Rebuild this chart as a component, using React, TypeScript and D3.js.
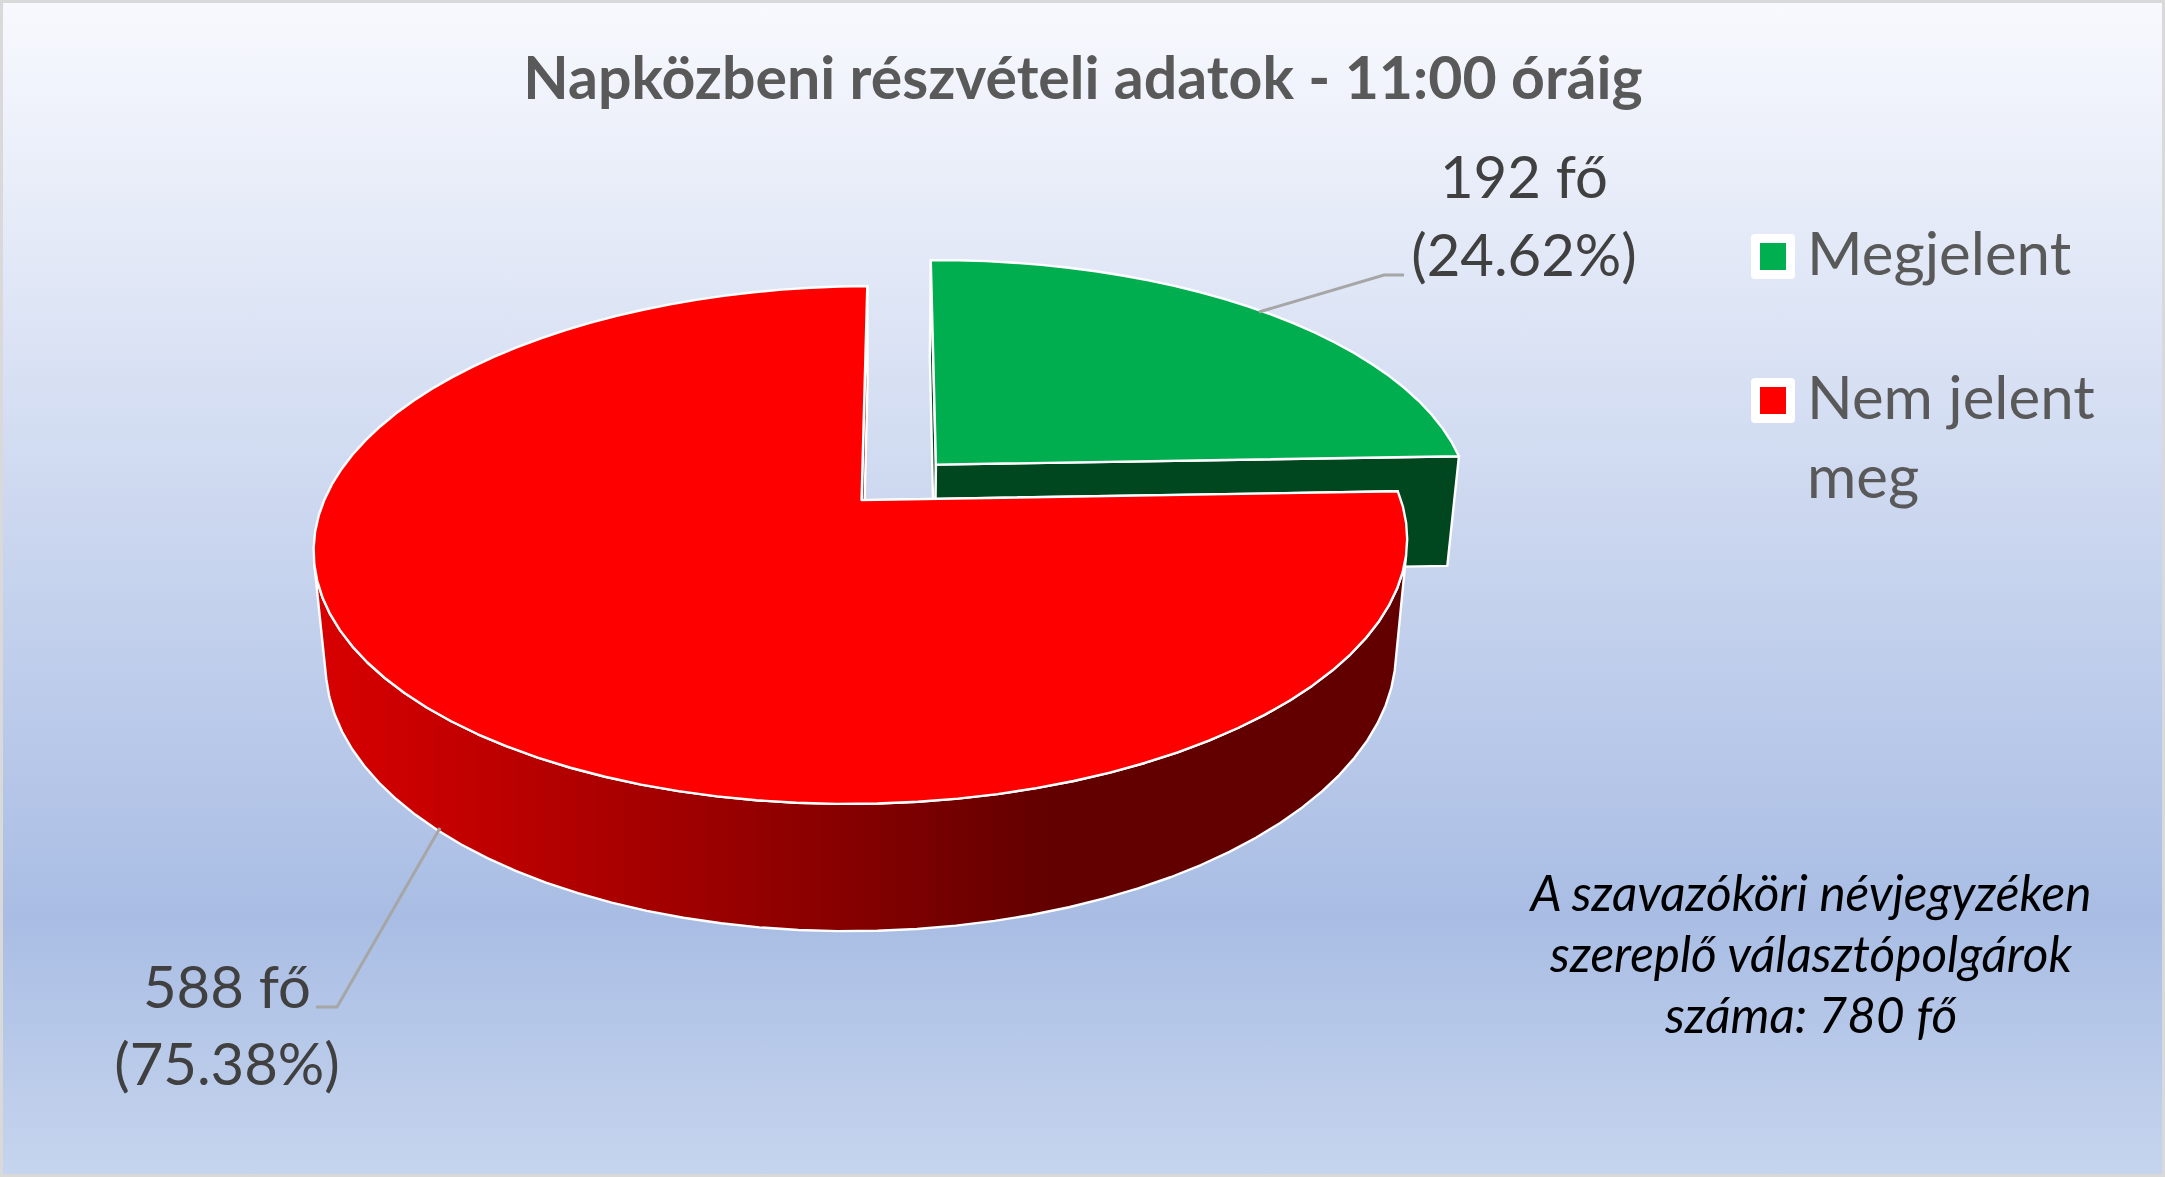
import React from "react";
import * as d3 from "d3";

const W = 2165;
const H = 1177;

const categories = ["Megjelent", "Nem jelent meg"];
const peopleCounts = [192, 588];
const explodeAmounts = [0.2, 0];
const topColors = ["#00AE50", "#FF0000"];
const wallColors = ["#00461F", "#7A0000"];
const legendColors = ["#00B050", "#FF0000"];
const titleText = "Napközbeni részvételi adatok - 11:00 óráig";
const labelLines = [["192 fő", "(24.62%)"], ["588 fő", "(75.38%)"]];
const noteLines = ["A szavazóköri névjegyzéken", "szereplő választópolgárok", "száma: 780 fő"];
const legendLines = [["Megjelent"], ["Nem jelent", "meg"]];

const bodyFont = "Lato, Carlito, Calibri, sans-serif";

// Perspective homography of the tilted pie plane; h is the extrusion depth (0 top, 1 bottom).
const SX = W / 1568;
const SY = H / 852;
const Q = 0.021;
function project(u: number, v: number, h: number): [number, number] {
  const d = 1 - 0.1733 * v + Q * h;
  const x = (624 - 113 * v + 390 * u + 635 * Q * h) / d;
  const y = (362 + 119.1 * v - 2 * u + 4300 * Q * h) / d;
  return [x * SX, y * SY];
}

const line = d3.line<[number, number]>();
const pieArcs = d3.pie<number>().sort(null)(peopleCounts);

function slicePaths(i: number) {
  const a = pieArcs[i];
  const mid = (a.startAngle + a.endAngle) / 2;
  const ox = explodeAmounts[i] * Math.sin(mid);
  const oy = -explodeAmounts[i] * Math.cos(mid);
  const pt = (t: number, r: number, h: number) =>
    project(ox + r * Math.sin(t), oy - r * Math.cos(t), h);
  const steps = Math.ceil(((a.endAngle - a.startAngle) / (2 * Math.PI)) * 100);
  const ts = d3.range(steps + 1).map((k) => a.startAngle + ((a.endAngle - a.startAngle) * k) / steps);
  const top = [pt(0, 0, 0), ...ts.map((t) => pt(t, 1, 0))];
  // keep only the outer-wall strips that face the camera
  const facing = ts.filter((t, k) => {
    const prev = ts[Math.max(k - 1, 0)];
    const next = ts[Math.min(k + 1, steps)];
    return d3.polygonArea([pt(prev, 1, 0), pt(next, 1, 0), pt(next, 1, 1), pt(prev, 1, 1)]) > 0;
  });
  const rim =
    facing.length > 1
      ? line([...facing.map((t) => pt(t, 1, 0)), ...facing.slice().reverse().map((t) => pt(t, 1, 1))]) + "Z"
      : null;
  const wall = (t: number) => [pt(0, 0, 0), pt(t, 1, 0), pt(t, 1, 1), pt(0, 0, 1)];
  return {
    top: line(top) + "Z",
    rim,
    wallStart: line(wall(a.startAngle)) + "Z",
    wallEnd: line(wall(a.endAngle)) + "Z",
  };
}

const legendY = [234, 378];
const legendBaselines = [[275], [419, 498]];

export default function App() {
  const slices = categories.map((_, i) => slicePaths(i));
  const white = { stroke: "#fff", strokeWidth: 2.4, strokeLinejoin: "round" as const };
  return (
    <svg
      width={W}
      height={H}
      viewBox={`0 0 ${W} ${H}`}
      style={{ position: "absolute", left: 0, top: 0, display: "block" }}
    >
      <defs>
        <linearGradient id="bg" x1="0" y1="0" x2="0" y2="1">
          <stop offset="0" stopColor="#F8F9FE" />
          <stop offset="0.78" stopColor="#A9BDE4" />
          <stop offset="1" stopColor="#C6D5EE" />
        </linearGradient>
        <linearGradient id="rimRed" gradientUnits="userSpaceOnUse" x1={315} y1={0} x2={1405} y2={0}>
          <stop offset="0" stopColor="#D80000" />
          <stop offset="0.15" stopColor="#C00000" />
          <stop offset="0.26" stopColor="#AC0000" />
          <stop offset="0.49" stopColor="#860000" />
          <stop offset="0.674" stopColor="#620000" />
          <stop offset="1" stopColor="#620000" />
        </linearGradient>
      </defs>
      <rect x={1.5} y={1.5} width={W - 3} height={H - 3} fill="url(#bg)" stroke="#D9D9D9" strokeWidth={3} />

      <text x={1083} y={99} textAnchor="middle" fontFamily={bodyFont} fontWeight={700} fontSize={59} fill="#595959">
        {titleText}
      </text>

      {slices.map((s, i) => (
        <g key={categories[i]}>
          {s.rim && <path d={s.rim} fill={i === 1 ? "url(#rimRed)" : wallColors[i]} {...white} />}
          <path d={s.wallStart} fill={wallColors[i]} {...white} />
          <path d={s.wallEnd} fill={wallColors[i]} {...white} />
          <path d={s.top} fill={topColors[i]} {...white} />
        </g>
      ))}

      <polyline points="1259,312 1384,275 1404,275" fill="none" stroke="#A6A6A6" strokeWidth={3} />
      <polyline points="440,828 337,1007 316,1007" fill="none" stroke="#A6A6A6" strokeWidth={3} />

      <g fontFamily={bodyFont} fontSize={58} fill="#404040" textAnchor="middle">
        <text x={1524} y={198}>{labelLines[0][0]}</text>
        <text x={1524} y={276}>{labelLines[0][1]}</text>
        <text x={227} y={1008}>{labelLines[1][0]}</text>
        <text x={227} y={1085}>{labelLines[1][1]}</text>
      </g>

      {categories.map((c, i) => (
        <g key={c}>
          <rect x={1751} y={legendY[i]} width={44} height={45} rx={4} fill="#fff" />
          <rect x={1760} y={legendY[i] + 9} width={26} height={27} fill={legendColors[i]} />
          {legendLines[i].map((t, k) => (
            <text key={t} x={1807} y={legendBaselines[i][k]} fontFamily={bodyFont} fontSize={60} fill="#595959">
              {t}
            </text>
          ))}
        </g>
      ))}

      <g fontFamily={bodyFont} fontStyle="italic" fontSize={49.5} fill="#000" textAnchor="middle">
        {noteLines.map((t, k) => (
          <text key={t} x={1811} y={911 + k * 61}>{t}</text>
        ))}
      </g>
    </svg>
  );
}
